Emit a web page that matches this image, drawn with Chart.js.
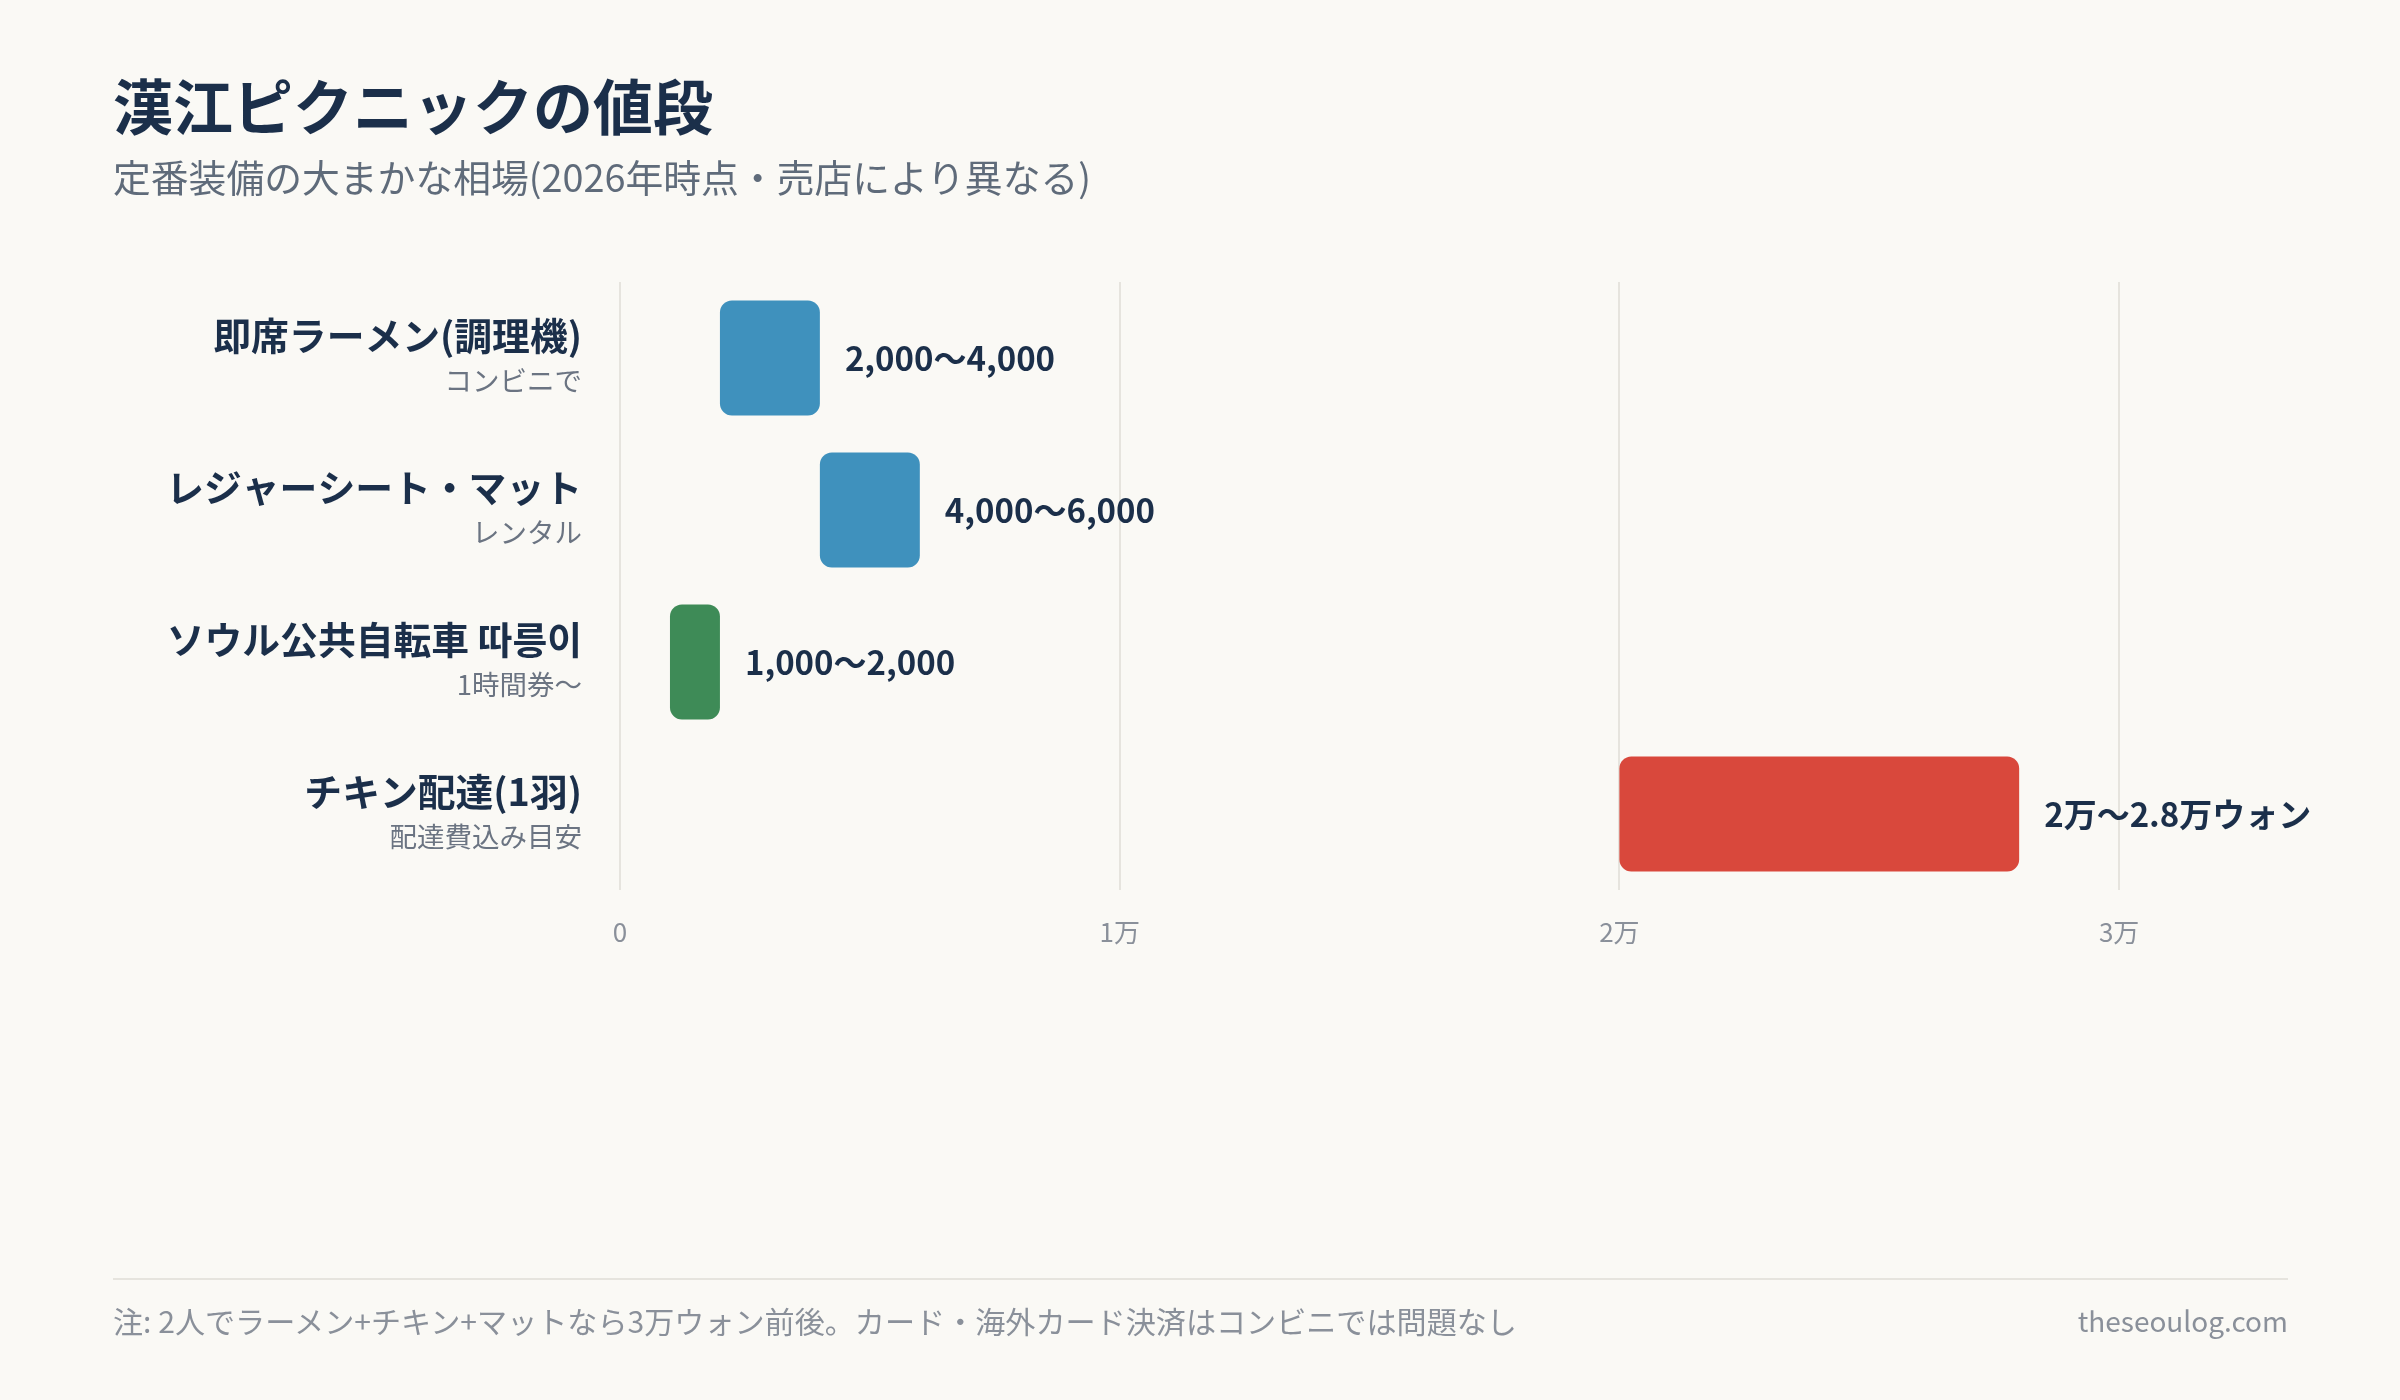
<!DOCTYPE html>
<html lang="ja">
<head>
<meta charset="utf-8">
<script src="https://cdn.jsdelivr.net/npm/chart.js@4.4.1/dist/chart.umd.min.js"></script>
<style>
  html, body { margin: 0; padding: 0; background: #faf9f5; }
  body { width: 2400px; height: 1400px; position: relative; overflow: hidden;
         font-family: "Noto Sans CJK JP", "Noto Sans", sans-serif; }
  #c { position: absolute; left: 0; top: 0; width: 2400px; height: 1400px; }
  .t { position: absolute; white-space: nowrap; }
  #title { left: 113px; top: 74px; font-size: 60px; line-height: 60px; font-weight: 700; color: #1b2f4a; }
  #subtitle { left: 113px; top: 157px; font-size: 37.8px; line-height: 38px; color: #5f6b7a; }
  #rule { position: absolute; left: 113px; top: 1278px; width: 2175px; height: 2px; background: #e6e4de; }
  #note { left: 113px; top: 1305px; font-size: 30.1px; line-height: 30px; color: #8a909a; }
  #site { right: 112px; top: 1306px; font-size: 28px; line-height: 28px; color: #8a909a; }
</style>
</head>
<body>
<canvas id="c" width="2400" height="1400"></canvas>
<div class="t" id="title">漢江ピクニックの値段</div>
<div class="t" id="subtitle">定番装備の大まかな相場(2026年時点・売店により異なる)</div>
<div id="rule"></div>
<div class="t" id="note">注: 2人でラーメン+チキン+マットなら3万ウォン前後。カード・海外カード決済はコンビニでは問題なし</div>
<div class="t" id="site">theseoulog.com</div>
<script>
const categories = ['即席ラーメン(調理機)', 'レジャーシート・マット', 'ソウル公共自転車 따릉이', 'チキン配達(1羽)'];
const subLabels = ['コンビニで', 'レンタル', '1時間券〜', '配達費込み目安'];
const lowValues = [2000, 4000, 1000, 20000];
const highValues = [4000, 6000, 2000, 28000];
const valueLabels = ['2,000〜4,000', '4,000〜6,000', '1,000〜2,000', '2万〜2.8万ウォン'];
const barColors = ['#3f91bd', '#3f91bd', '#3e8b57', '#d9483c'];
const tickValues = [0, 10000, 20000, 30000];
const tickLabels = ['0', '1万', '2万', '3万'];

const FONT = '"Noto Sans CJK JP", "Noto Sans", sans-serif';

const labelsPlugin = {
  id: 'labelsPlugin',
  afterDatasetsDraw(chart) {
    const ctx = chart.ctx;
    const yScale = chart.scales.y;
    const meta = chart.getDatasetMeta(0);
    ctx.save();
    categories.forEach((cat, i) => {
      const y = yScale.getPixelForValue(i);
      ctx.textAlign = 'right';
      ctx.textBaseline = 'middle';
      ctx.fillStyle = '#1b2f4a';
      ctx.font = '700 37.8px ' + FONT;
      ctx.fillText(cat, 582, y - 22);
      ctx.fillStyle = '#6b7482';
      ctx.font = '400 27.5px ' + FONT;
      ctx.fillText(subLabels[i], 582, y + 23);
    });
    meta.data.forEach((bar, i) => {
      ctx.textAlign = 'left';
      ctx.textBaseline = 'middle';
      ctx.fillStyle = '#1b2f4a';
      ctx.font = '700 33px ' + FONT;
      ctx.fillText(valueLabels[i], Math.max(bar.x, bar.base) + 25, bar.y);
    });
    ctx.restore();
  }
};

new Chart(document.getElementById('c'), {
  type: 'bar',
  data: {
    labels: categories,
    datasets: [{
      data: categories.map((_, i) => [lowValues[i], highValues[i]]),
      backgroundColor: barColors,
      borderRadius: 12,
      borderSkipped: false,
      barPercentage: 0.757,
      categoryPercentage: 1.0
    }]
  },
  options: {
    indexAxis: 'y',
    responsive: false,
    devicePixelRatio: 1,
    animation: false,
    layout: { padding: { left: 620, top: 282, right: 101, bottom: 450 } },
    plugins: { legend: { display: false }, tooltip: { enabled: false }, title: { display: false } },
    scales: {
      x: {
        type: 'linear',
        min: 0,
        max: 33600,
        afterBuildTicks(scale) {
          scale.ticks = tickValues.map(v => ({ value: v }));
        },
        afterFit(scale) { scale.height = 60; },
        border: { display: false },
        grid: { color: '#e6e4de', lineWidth: 2, drawTicks: false },
        ticks: {
          padding: 27,
          color: '#8a909a',
          font: { family: FONT, size: 26 },
          callback(value) {
            const idx = tickValues.indexOf(value);
            return idx >= 0 ? tickLabels[idx] : '';
          }
        }
      },
      y: {
        display: false,
        grid: { display: false }
      }
    }
  },
  plugins: [labelsPlugin]
});
</script>
</body>
</html>
